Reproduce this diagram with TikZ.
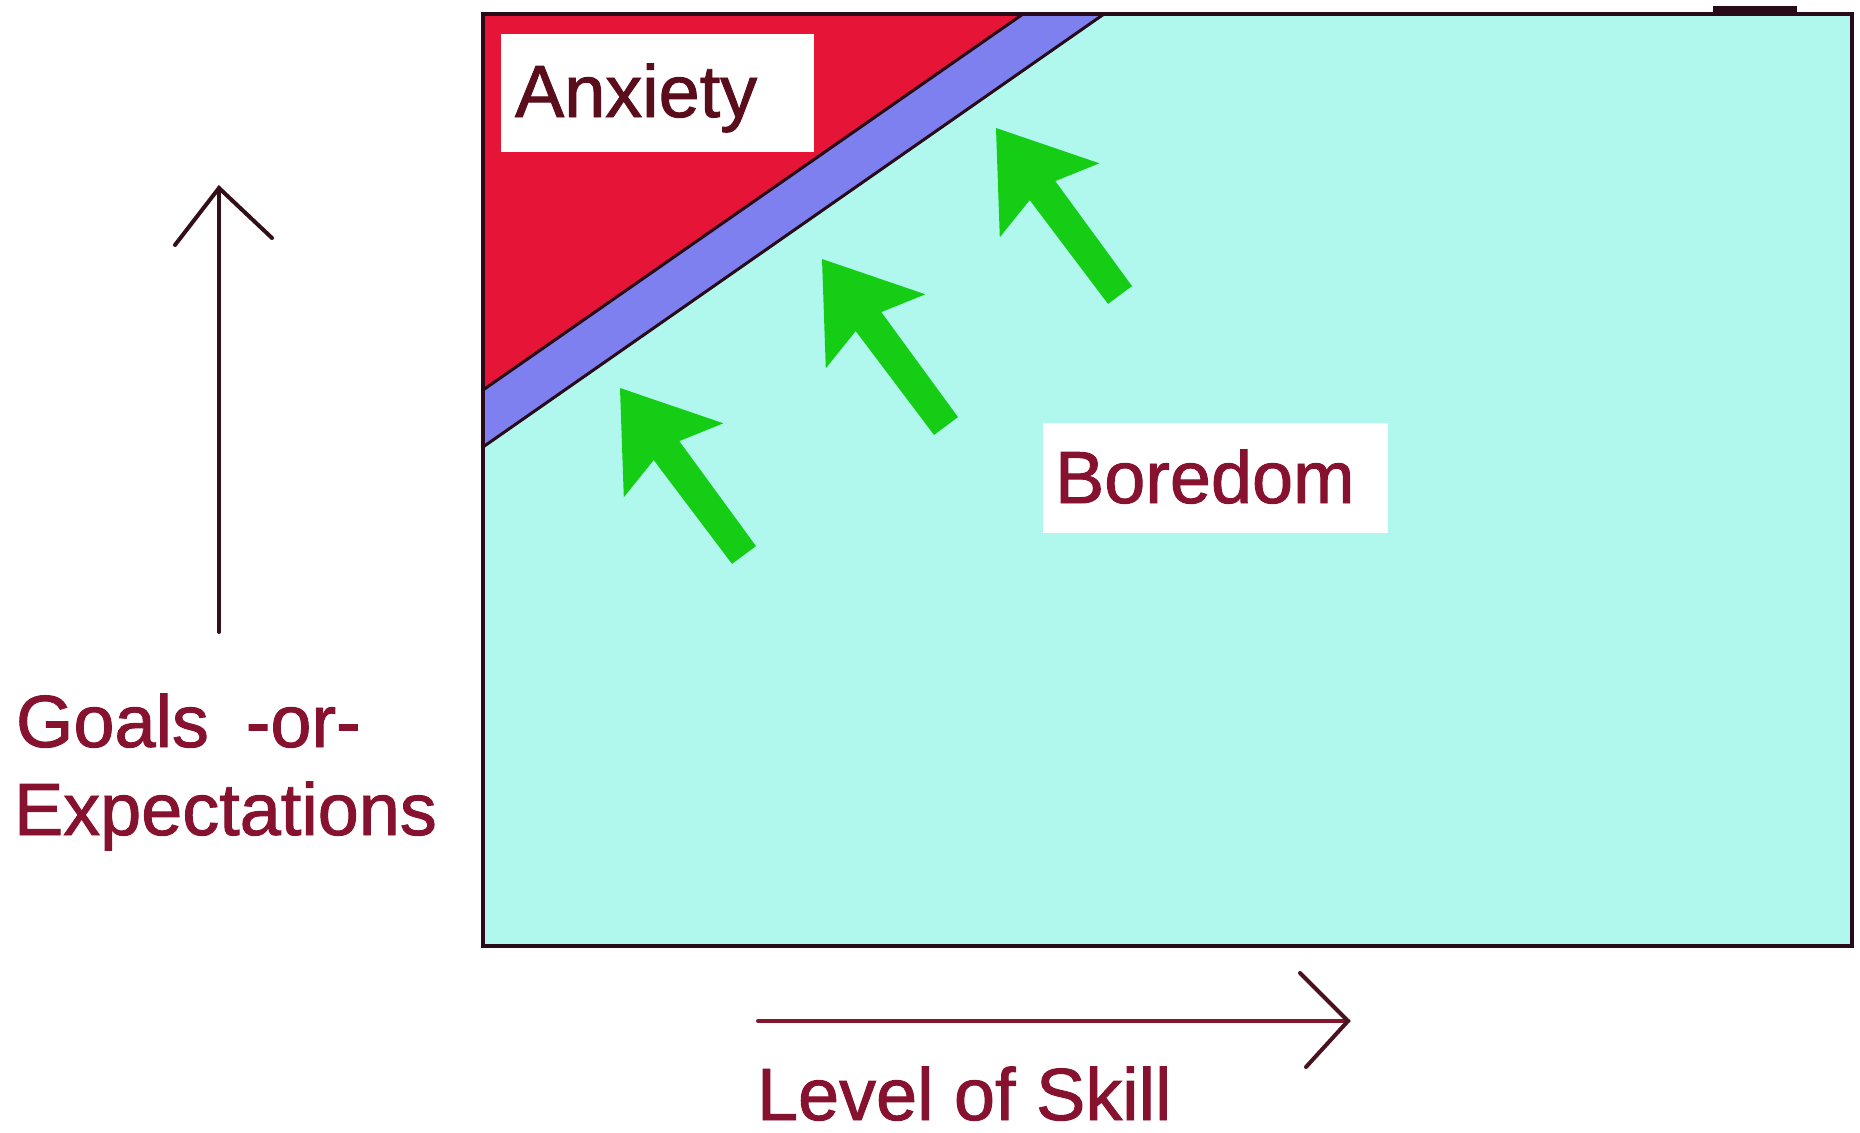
\documentclass[tikz,border=0pt]{standalone}
\usepackage{fontspec}
\setmainfont{Liberation Sans}
\newfontfamily\lblfont{Liberation Sans}[FakeBold=1.3]
\definecolor{cyanfill}{RGB}{176,248,238}
\definecolor{redfill}{RGB}{230,20,55}
\definecolor{bandblue}{RGB}{125,128,238}
\definecolor{edgedark}{RGB}{40,10,25}
\definecolor{labelred}{RGB}{135,18,48}
\definecolor{anxtext}{RGB}{90,14,28}
\definecolor{arrowgreen}{RGB}{22,205,22}
\definecolor{yaxiscol}{RGB}{50,15,25}
\definecolor{xaxiscol}{RGB}{130,22,45}
\begin{document}
\begin{tikzpicture}[x=0.01cm,y=-0.01cm,
  every node/.style={inner sep=0pt,outer sep=0pt},
  lbl/.style={anchor=base west,text=labelred,font=\lblfont\fontsize{21pt}{25pt}\selectfont},
  labelbg/.style={fill=white},
  diag/.style={draw=edgedark,line width=0.03cm},
  axisline/.style={line width=0.04cm,line cap=round,line join=miter},
  garrow/.pic={\fill[arrowgreen] (0,0) -- (103.4,35.3) -- (59.3,53.1) -- (136.0,158.1) -- (112.0,175.9) -- (33.7,72.1) -- (3.8,109.3) -- cycle;}
]
\fill[white] (0,0) rectangle (1860,1133);
\useasboundingbox (0,0) rectangle (1860,1133);

% plot area
\coordinate (tl) at (483,14);
\coordinate (br) at (1852,946);
\fill[cyanfill] (tl) rectangle (br);
\coordinate (redtop) at (1023,14);
\coordinate (redleft) at (483,390);
\coordinate (bandtop) at (1104,14);
\coordinate (bandleft) at (483,447);
\fill[redfill] (tl) -- (redtop) -- (redleft) -- cycle;
\fill[bandblue] (redtop) -- (bandtop) -- (bandleft) -- (redleft) -- cycle;
\draw[diag] (redtop) -- (redleft);
\draw[diag] (bandtop) -- (bandleft);
\fill[edgedark] (1713,6) rectangle (1797,14);
\draw[edgedark,line width=0.04cm] (tl) rectangle (br);

% green arrows
\pic at (620,388) {garrow};
\pic at (822,259) {garrow};
\pic at (996,128) {garrow};

% labels inside
\fill[labelbg] (501,34) rectangle (814,152);
\node[lbl,text=anxtext] (anx) at (515,117) {Anxiety};
\fill[labelbg] (1043,423) rectangle (1388,533);
\node[lbl] (bor) at (1055,503) {Boredom};

% y axis
\coordinate (ybot) at (219,632);
\coordinate (ytop) at (219,188);
\coordinate (ywl) at (175,245);
\coordinate (ywr) at (272,238);
\draw[yaxiscol,axisline] (ybot) -- (ytop);
\draw[yaxiscol,axisline] (ywl) -- (ytop) -- (ywr);
\node[lbl] (goals) at (16,747) {Goals\hspace{0.5em}-or-};
\node[lbl] (expect) at (14,835) {Expectations};

% x axis
\coordinate (xl) at (758,1021);
\coordinate (xr) at (1348,1021);
\coordinate (xwt) at (1300,973);
\coordinate (xwb) at (1306,1067);
\draw[xaxiscol,axisline] (xl) -- (xr);
\draw[yaxiscol!70!xaxiscol,axisline] (xwt) -- (xr) -- (xwb);
\node[lbl] (skill) at (757,1120) {Level of Skill};
\end{tikzpicture}
\end{document}
